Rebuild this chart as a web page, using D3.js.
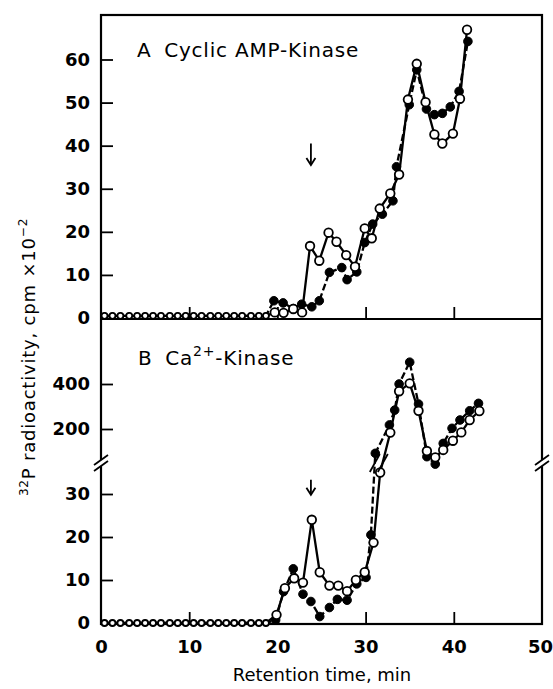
<!DOCTYPE html>
<html><head><meta charset="utf-8">
<script src="https://cdn.jsdelivr.net/npm/d3@7"></script>
<style>
body{margin:0;background:#fff}
text{font-family:"DejaVu Sans",sans-serif;fill:#000}
</style>
</head><body>
<svg id="chart" width="553" height="689"></svg>
<script>
// ---------- DATA ----------
const xTicks = [0, 10, 20, 30, 40, 50];
const yTicksA = [0, 10, 20, 30, 40, 50, 60];
const yTicksBlow = [0, 10, 20, 30];
const yTicksBup = [200, 400];

// baseline fractions (0-19 min), both panels
const baseTimes = [0.4, 1.3, 2.2, 3.2, 4.1, 5.0, 5.9, 6.8, 7.8, 8.7, 9.6, 10.5, 11.4, 12.4, 13.3, 14.2, 15.1, 16.0, 17.0, 17.9, 18.7];

// Panel A  (cpm x 10^-2)
const aOpenT = [19.7, 20.7, 21.8, 22.8, 23.7, 24.75, 25.8, 26.7, 27.8, 28.8, 29.9, 30.7, 31.6, 32.8, 33.8, 34.8, 35.8, 36.8, 37.8, 38.7, 39.9, 40.7, 41.5];
const aOpenV = [1.3, 1.2, 2.1, 1.3, 16.7, 13.3, 19.8, 17.7, 14.6, 11.9, 20.8, 18.5, 25.4, 28.9, 33.3, 50.7, 59.0, 50.1, 42.6, 40.5, 42.8, 50.9, 66.9];
const aFillT = [19.6, 20.65, 21.8, 22.75, 23.9, 24.75, 25.9, 27.3, 27.9, 29.0, 29.9, 30.8, 31.9, 33.1, 33.5, 34.95, 35.8, 36.9, 37.8, 38.7, 39.6, 40.6, 41.6];
const aFillV = [4.0, 3.5, 2.2, 3.2, 2.6, 4.0, 10.6, 11.7, 8.9, 10.7, 17.5, 21.8, 24.1, 27.2, 35.1, 49.5, 57.6, 48.5, 47.2, 47.5, 49.0, 52.6, 64.2];

// Panel B (cpm x 10^-2, broken axis)
const bOpenT = [19.9, 20.85, 21.9, 22.9, 23.9, 24.8, 25.9, 26.9, 27.9, 28.9, 29.9, 30.9, 31.65, 32.8, 33.8, 35.0, 36.0, 36.95, 37.9, 38.8, 39.9, 40.85, 41.8, 42.9];
const bOpenV = [1.9, 8.1, 10.4, 9.4, 24.0, 11.8, 8.7, 8.7, 7.4, 10.0, 11.8, 18.7, 35.0, 184, 368, 403, 281, 102, 74, 107, 148, 185, 240, 280];
const bFillT = [19.8, 20.7, 21.8, 22.9, 23.8, 24.8, 25.9, 26.8, 27.9, 29.0, 30.05, 30.6, 31.1, 32.7, 33.3, 33.8, 35.0, 36.0, 36.95, 37.9, 38.8, 39.8, 40.7, 41.8, 42.8];
const bFillV = [0.7, 7.3, 12.6, 6.7, 5.0, 1.5, 3.6, 5.5, 5.3, 9.1, 10.6, 20.5, 92, 218, 284, 400, 497, 311, 77, 44, 136, 203, 240, 281, 314];

const arrowT = 23.8;
const breakVal = 37.2;

// ---------- SCALES ----------
const svg = d3.select("#chart");
const L = 101, R = 542, T = 15, B = 624, MID = 319;
const x = d3.scaleLinear([0, 50], [L, R]);
const yA = d3.scaleLinear([0, 60], [318, 59.5]);
const yBlow = d3.scaleLinear([0, 30], [623, 494]);
const yBup = d3.scaleLinear([200, 400], [429, 384]);
const yB = v => v <= breakVal ? yBlow(v) : yBup(v);
const breakY = yBlow(breakVal);

// ---------- FRAME ----------
const g = svg.append("g");
g.append("rect").attr("x", L).attr("y", T).attr("width", R - L).attr("height", B - T)
  .attr("fill", "none").attr("stroke", "#000").attr("stroke-width", 2.2);
g.append("line").attr("x1", L).attr("x2", R).attr("y1", MID).attr("y2", MID)
  .attr("stroke", "#000").attr("stroke-width", 2.2);

// axis break marks
[L, R].forEach(ax => {
  g.append("line").attr("x1", ax).attr("x2", ax).attr("y1", breakY - 3).attr("y2", breakY + 3)
    .attr("stroke", "#fff").attr("stroke-width", 4);
  [-3, 3].forEach(o => {
    g.append("line").attr("x1", ax - 7).attr("x2", ax + 7)
      .attr("y1", breakY + o + 5).attr("y2", breakY + o - 5)
      .attr("stroke", "#000").attr("stroke-width", 1.8);
  });
});

// ---------- AXES ----------
function styleAxis(sel) {
  sel.select(".domain").remove();
  sel.selectAll(".tick line").attr("stroke", "#000").attr("stroke-width", 1.8);
  sel.selectAll(".tick text").attr("font-family", "DejaVu Sans").attr("font-weight", "bold")
    .attr("font-size", 18).attr("fill", "#000");
}
svg.append("g").attr("transform", `translate(${L},0)`)
  .call(d3.axisLeft(yA).tickValues(yTicksA).tickSize(-12).tickPadding(11).tickFormat(d3.format("d")))
  .call(styleAxis);
svg.append("g").attr("transform", `translate(${L},0)`)
  .call(d3.axisLeft(yBlow).tickValues(yTicksBlow).tickSize(-12).tickPadding(11).tickFormat(d3.format("d")))
  .call(styleAxis);
svg.append("g").attr("transform", `translate(${L},0)`)
  .call(d3.axisLeft(yBup).tickValues(yTicksBup).tickSize(-12).tickPadding(11).tickFormat(d3.format("d")))
  .call(styleAxis);
svg.append("g").attr("transform", `translate(0,${B})`)
  .call(d3.axisBottom(x).tickValues(xTicks).tickSize(-12).tickPadding(16).tickFormat(d3.format("d")))
  .call(styleAxis)
  .call(s => s.selectAll(".tick line").filter(d => d === 0 || d === 50).remove())
  .call(s => s.selectAll(".tick text").filter(d => d === 50).attr("dx", -2));
svg.append("g").attr("transform", `translate(0,${MID})`)
  .call(d3.axisBottom(x).tickValues(xTicks.slice(1, 5)).tickSize(-12).tickFormat(""))
  .call(styleAxis);

// ---------- LABELS ----------
svg.append("text").attr("x", 322).attr("y", 681).attr("text-anchor", "middle")
  .attr("font-size", 18).text("Retention time, min");
const yl = svg.append("text").attr("transform", "translate(35,357) rotate(-90)")
  .attr("text-anchor", "middle").attr("font-size", 18).attr("letter-spacing", 0.8);
yl.append("tspan").attr("font-size", 12).attr("dy", -7).text("32");
yl.append("tspan").attr("dy", 7).text("P radioactivity, cpm \u00d710");
yl.append("tspan").attr("font-size", 12).attr("dy", -8).text("\u22122");

const tA = svg.append("text").attr("x", 137).attr("y", 57).attr("font-size", 20).attr("letter-spacing", 0.8);
tA.append("tspan").text("A");
tA.append("tspan").attr("dx", 13).text("Cyclic AMP-Kinase");
const tB = svg.append("text").attr("x", 138).attr("y", 365).attr("font-size", 20).attr("letter-spacing", 0.8);
tB.append("tspan").text("B");
tB.append("tspan").attr("dx", 13).text("Ca");
tB.append("tspan").attr("font-size", 14).attr("dy", -9).text("2+");
tB.append("tspan").attr("dy", 9).text("-Kinase");

// arrows
function arrow(xp, y1, y2) {
  svg.append("line").attr("x1", xp).attr("x2", xp).attr("y1", y1).attr("y2", y2)
    .attr("stroke", "#000").attr("stroke-width", 1.8);
  svg.append("path").attr("d", `M${xp - 4.5},${y2 - 7}L${xp},${y2}L${xp + 4.5},${y2 - 7}`)
    .attr("fill", "none").attr("stroke", "#000").attr("stroke-width", 1.8);
}
arrow(x(arrowT), yA(40.5), yA(35.5));
arrow(x(arrowT), yBlow(33.3), yBlow(29.8));

// ---------- SERIES ----------
function series(times, vals, baseVal, yf, filled) {
  const pts = baseTimes.map(t => ({t, v: baseVal, base: true}))
    .concat(times.map((t, i) => ({t, v: vals[i], base: false})));
  const line = d3.line().x(d => x(d.t)).y(d => yf(d.v));
  const gg = svg.append("g");
  gg.append("path").datum(pts).attr("d", line).attr("fill", "none")
    .attr("stroke", "#000").attr("stroke-width", 2.3)
    .attr("stroke-dasharray", filled ? "7,3" : null);
  gg.selectAll("circle").data(pts).join("circle")
    .attr("cx", d => x(d.t)).attr("cy", d => yf(d.v))
    .attr("r", d => d.base ? 3 : 4.3)
    .attr("fill", filled ? "#000" : "#fff")
    .attr("stroke", "#000").attr("stroke-width", filled ? 1 : 1.8);
}
series(aFillT, aFillV, 0.5, yA, true);
series(aOpenT, aOpenV, 0.5, yA, false);
series(bFillT, bFillV, 0, yB, true);
series(bOpenT, bOpenV, 0, yB, false);

// data break marks
[-4, 4].forEach(o => {
  svg.append("line").attr("x1", x(31.5) + o - 5).attr("x2", x(31.5) + o + 5)
    .attr("y1", breakY + 9).attr("y2", breakY - 9)
    .attr("stroke", "#000").attr("stroke-width", 1.8);
});
</script>
</body></html>
